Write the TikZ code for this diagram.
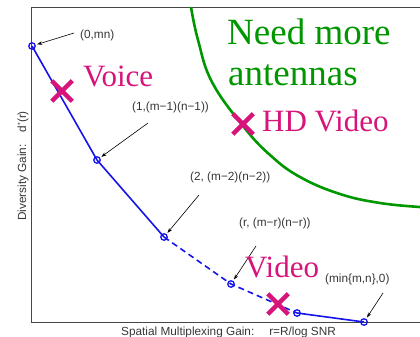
\documentclass[tikz,border=0pt]{standalone}
\usepackage{fontspec}
\setmainfont{Liberation Serif}
\newfontfamily\annfont{Liberation Sans}
\usetikzlibrary{arrows.meta,shapes.misc}
\definecolor{curveblue}{RGB}{20,20,235}
\definecolor{voicepink}{RGB}{214,20,122}
\definecolor{antgreen}{RGB}{0,150,0}
\definecolor{axisgray}{RGB}{70,70,70}
\definecolor{textgray}{RGB}{55,55,55}
\begin{document}
\begin{tikzpicture}[x=1pt,y=-1pt,
  marker/.style={circle,draw=curveblue,line width=1.3pt,minimum size=6.5pt,inner sep=0pt},
  ann/.style={font=\annfont\fontsize{11.8}{14}\selectfont,text=textgray,inner sep=0pt,anchor=west},
  pointer/.style={-{Stealth[length=5pt,width=3.5pt]},line width=0.6pt,black,shorten >=1.5pt},
  big/.style={font=\fontsize{31}{36}\selectfont,text=voicepink,inner sep=0pt,anchor=base west},
  green text/.style={font=\fontsize{37}{40}\selectfont,text=antgreen,inner sep=0pt,anchor=base west},
  xmark/.style={cross out,draw=voicepink,line width=4.5pt,minimum size=16pt,inner sep=0pt},
  curve/.style={curveblue,line width=1.6pt}]
\useasboundingbox (0,0) rectangle (420,337);

% frame of the plot
\draw[axisgray,line width=1pt] (420,8) -- (31,8) -- (31,322) -- (420,322);

% region needing more antennas
\draw[antgreen,line width=2.6pt] plot[smooth,tension=0.7] coordinates
  {(191,7) (198,40) (212,82) (243,126) (270,155) (300,177) (340,194) (380,203) (420,207)};
\node[green text] (need) at (227,45) {Need more};
\node[green text] (antennas) at (228,85) {antennas};

% corner points of the tradeoff curve
\node[marker] (p0) at (32,46) {};
\node[marker] (p1) at (97,160) {};
\node[marker] (p2) at (164,237) {};
\node[marker] (p3) at (231,284) {};
\node[marker] (p4) at (297,313) {};
\node[marker] (p5) at (364,322) {};

\draw[curve] (p0.center) -- (p1.center) -- (p2.center);
\draw[curve,dash pattern=on 6pt off 4pt] (p2.center) -- (p3.center) -- (p4.center);
\draw[curve] (p4.center) -- (p5.center);

% point labels
\node[ann] (l0) at (80,35) {(0,mn)};
\node[ann] (l1) at (132,107) {(1,(m−1)(n−1))};
\node[ann] (l2) at (190,177) {(2, (m−2)(n−2))};
\node[ann] (l3) at (239,223) {(r, (m−r)(n−r))};
\node[ann] (l5) at (325,279) {(min\{m,n\},0)};

\coordinate (t0) at (74,33);
\coordinate (t1) at (148,123);
\coordinate (t2) at (199,195);
\coordinate (t3) at (256,246);
\coordinate (t5) at (383,293);
\draw[pointer] (t0) -- (p0);
\draw[pointer] (t1) -- (p1);
\draw[pointer] (t2) -- (p2);
\draw[pointer] (t3) -- (p3);
\draw[pointer] (t5) -- (p5);

% axis titles
\node[ann,anchor=west] (xlab) at (121,332) {Spatial Multiplexing Gain:\hspace{15pt}r=R/log SNR};
\node[ann,anchor=center,rotate=90] (ylab) at (23,166) {Diversity Gain:\hspace{12pt}d\raisebox{0.55ex}{\fontsize{7}{7}\selectfont *}(r)};

% applications
\node[xmark] (xvoice) at (62,91) {};
\node[xmark] (xhd) at (243,124) {};
\node[xmark] (xvideo) at (278,304) {};
\node[big] (voice) at (83,86) {Voice};
\node[big] (hd) at (262,131) {HD Video};
\node[big] (video) at (245,277) {Video};
\end{tikzpicture}
\end{document}
